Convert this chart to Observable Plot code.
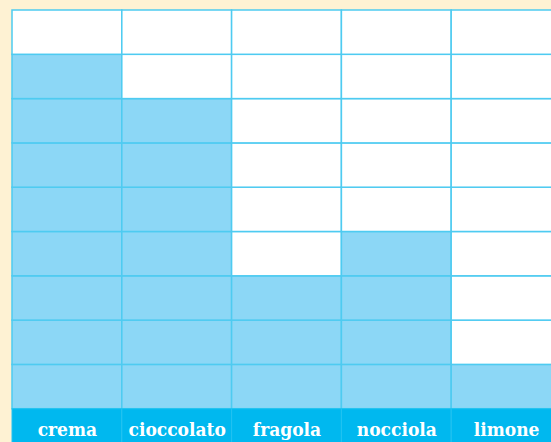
<!DOCTYPE html>
<html><head><meta charset="utf-8">
<script src="https://cdn.jsdelivr.net/npm/d3@7"></script>
<script src="https://cdn.jsdelivr.net/npm/@observablehq/plot@0.6"></script>
<style>
html,body{margin:0;padding:0;background:#fef2d3;overflow:hidden;width:551px;height:442px}
#chart svg{display:block;max-width:none}
</style></head><body><div id="chart"></div>
<script>
const flavors = ["crema", "cioccolato", "fragola", "nocciola", "limone"];
const votes = [8, 7, 3, 4, 1];
const rowCount = 9;

const rows = d3.range(rowCount);
const cells = flavors.flatMap((f, i) => rows.map(r => ({flavor: f, row: String(r), filled: r < votes[i]})));
const labels = flavors.map(f => ({flavor: f, row: "label"}));
const yDomain = [...rows.map(String).reverse(), "label"];

const plot = Plot.plot({
  width: 562, height: 453, margin: 0,
  style: {background: "transparent", overflow: "hidden", maxWidth: "none"},
  x: {type: "band", domain: flavors, range: [12, 561], padding: 0, round: false, axis: null},
  y: {type: "band", domain: yDomain, range: [10, 453], padding: 0, round: false, axis: null},
  marks: [
    Plot.cell(cells, {x: "flavor", y: "row", fill: d => d.filled ? "#8cd7f6" : "#ffffff", stroke: "#4ecbf1", strokeWidth: 1.5}),
    Plot.cell(labels, {x: "flavor", y: "row", fill: "#00b8ef", stroke: "#22c2f1", strokeWidth: 1}),
    Plot.text(labels, {x: "flavor", y: "row", text: "flavor", fill: "white", fontSize: 19, fontWeight: "bold", fontFamily: "DejaVu Serif Condensed", dy: -1})
  ]
});
document.getElementById("chart").appendChild(plot);
</script>
</body></html>
